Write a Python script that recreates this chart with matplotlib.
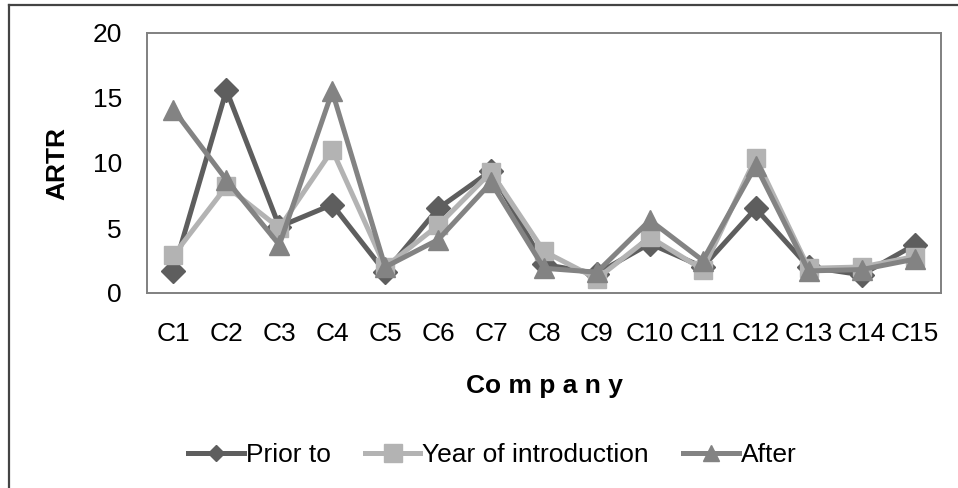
import matplotlib
matplotlib.use("Agg")
import matplotlib.pyplot as plt
from matplotlib.lines import Line2D

plt.rcParams["font.family"] = ["Liberation Sans", "DejaVu Sans"]

# ARTR por empresa: antes, año de introducción y después
companies = ["C1", "C2", "C3", "C4", "C5", "C6", "C7", "C8",
             "C9", "C10", "C11", "C12", "C13", "C14", "C15"]
prior_to = [1.7, 15.6, 5.1, 6.8, 1.6, 6.5, 9.4, 2.2,
            1.5, 3.8, 2.0, 6.5, 2.0, 1.4, 3.7]
year_intro = [2.9, 8.2, 5.0, 11.0, 2.0, 5.2, 9.3, 3.2,
              1.1, 4.3, 1.8, 10.4, 1.9, 2.0, 2.8]
after = [14.1, 8.7, 3.7, 15.5, 2.0, 4.1, 8.5, 1.9,
         1.6, 5.6, 2.5, 9.8, 1.7, 1.8, 2.6]

FS = 19

# (etiqueta, color, marcador, tamaño en el gráfico, tamaño en la leyenda)
series = [
    ("Prior to", prior_to, "#5e5e5e", "D", 12, 8),
    ("Year of introduction", year_intro, "#b3b3b3", "s", 13, 13),
    ("After", after, "#838383", "^", 15, 12),
]

fig = plt.figure(figsize=(9.58, 4.88), dpi=100)
ax = fig.add_axes([147 / 958, 1 - 293 / 488, 794 / 958, 260 / 488])

x = range(len(companies))
handles = []
for z, (name, vals, col, mk, ms, ms_leg) in enumerate(series):
    ax.plot(x, vals, color=col, lw=3.6, marker=mk, ms=ms, zorder=3 + z)
    handles.append(Line2D([], [], color=col, lw=3.6, marker=mk, ms=ms_leg,
                          label=name))

ax.set_xlim(-0.5, len(companies) - 0.5)
ax.set_ylim(0, 20)
ax.set_yticks([0, 5, 10, 15, 20])
ax.set_xticks(list(x))
ax.set_xticklabels(companies)
ax.tick_params(axis="both", length=0, labelsize=FS)
ax.tick_params(axis="y", pad=18)
ax.tick_params(axis="x", pad=21)
for s in ax.spines.values():
    s.set_color("#808080")
    s.set_linewidth(1.4)

# títulos de los ejes
fig.text(57.5 / 958, 1 - 163.5 / 488, "ARTR", rotation=90, fontsize=FS,
         fontweight="bold", ha="center", va="center")
fig.text(544.5 / 958, 1 - 393 / 488, "Co m p a n y", fontsize=FS,
         fontweight="bold", ha="center", va="baseline")

ax.legend(handles=handles, loc="center", bbox_to_anchor=(0.514, 0.068),
          bbox_transform=fig.transFigure, ncol=3, frameon=False,
          fontsize=FS, handlelength=2.1, handletextpad=0.08,
          columnspacing=1.3)

# borde exterior del gráfico (solo se ven arriba e izquierda)
fig.add_artist(Line2D([9 / 958, 9 / 958], [0, 1 - 5 / 488],
                      transform=fig.transFigure, color="#444444", lw=1.6))
fig.add_artist(Line2D([9 / 958, 1], [1 - 5 / 488, 1 - 5 / 488],
                      transform=fig.transFigure, color="#444444", lw=1.6))

fig.savefig("out.png", dpi=100)
